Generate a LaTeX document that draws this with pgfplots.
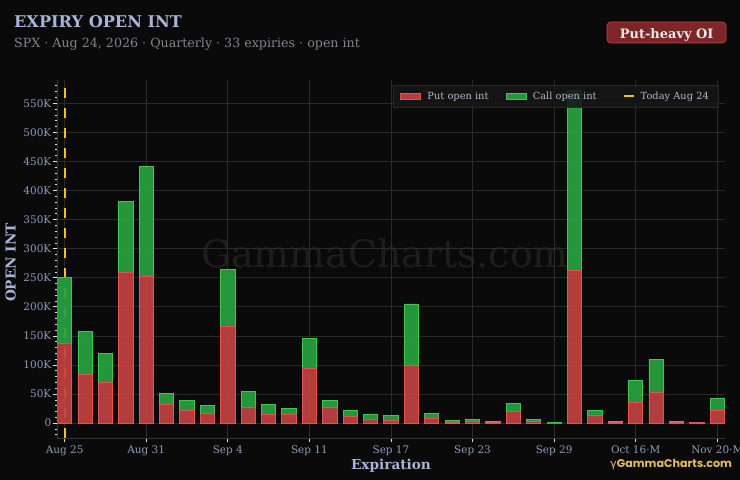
\documentclass[border=0pt]{standalone}
\usepackage{pgfplots}
\pgfplotsset{compat=1.18}
\usepackage{pgfplotstable}
\usepackage{fontspec}
\setmainfont{DejaVu Serif}
\newfontfamily\logofont{Poppins}
\newfontfamily\symfont{DejaVu Sans}
\definecolor{bg}{RGB}{10,10,10}
\definecolor{titlec}{RGB}{168,180,216}
\definecolor{subc}{RGB}{128,132,142}
\definecolor{tickc}{RGB}{143,154,188}
\definecolor{gridc}{RGB}{42,42,42}
\definecolor{axisc}{RGB}{55,55,55}
\definecolor{putfill}{RGB}{194,66,66}
\definecolor{putdraw}{RGB}{226,84,84}
\definecolor{callfill}{RGB}{40,162,64}
\definecolor{calldraw}{RGB}{62,200,82}
\definecolor{todayc}{RGB}{240,196,32}
\definecolor{badgefill}{RGB}{124,38,42}
\definecolor{badgedraw}{RGB}{206,64,64}
\definecolor{badgetext}{RGB}{242,232,232}
\definecolor{wm}{RGB}{30,30,30}
\definecolor{legfill}{RGB}{22,22,22}
\definecolor{legdraw}{RGB}{40,40,40}
\definecolor{legtext}{RGB}{176,184,208}
\definecolor{gold}{RGB}{230,190,90}

\pgfplotstableread{
idx put call
0 138000 113000
1 83000 74500
2 69500 51000
3 259000 122500
4 251500 190000
5 32000 19000
6 22000 17000
7 16000 14500
8 166000 99000
9 27000 27500
10 14500 17500
11 14500 11500
12 94000 52000
13 26500 12500
14 11000 10500
15 7000 7500
16 4500 8500
17 99000 106000
18 8500 8000
19 1500 2500
20 2500 4500
21 800 1500
22 20000 14000
23 2300 3700
24 300 700
25 263500 308500
26 13000 8500
27 1700 1700
28 35500 38500
29 52500 56500
30 800 1500
31 500 1200
32 22000 20000
}\oidata

\begin{document}
\begin{tikzpicture}[x=1bp,y=1bp]
\fill[bg] (0,0) rectangle (740,480);
\node[anchor=base west, text=titlec, font=\fontsize{16.2}{18}\selectfont\bfseries, inner sep=0] at (14,452) {EXPIRY OPEN INT};
\node[anchor=base west, text=subc, font=\fontsize{12.7}{14}\selectfont, inner sep=0] at (14,432.3) {SPX · Aug 24, 2026 · Quarterly · 33 expiries · open int};
\draw[fill=badgefill, draw=badgedraw, rounded corners=4bp, line width=0.8bp] (607,437) rectangle (726,458);
\node[anchor=base, text=badgetext, font=\fontsize{13}{15}\selectfont\bfseries, inner sep=0] at (666.7,441) {Put-heavy OI};
\node[anchor=base, text=wm, font=\fontsize{38}{40}\selectfont, inner sep=0] at (385,212) {GammaCharts.com};

\begin{axis}[
  at={(57.3bp,41.7bp)}, anchor=south west,
  scale only axis, width=667.7bp, height=358.3bp,
  ybar stacked, bar width=0.7,
  xmin=-0.36, xmax=32.38, ymin=-26000, ymax=590000,
  axis x line=bottom, axis y line=left,
  axis line style={draw=axisc, line width=0.8bp, -},
  xtick={0,4,...,32},
  xticklabels={Aug 25, Aug 31, Sep 4, Sep 11, Sep 17, Sep 23, Sep 29, Oct 16·M, Nov 20·M},
  ytick={0,50000,...,550000},
  yticklabels={0,50K,100K,150K,200K,250K,300K,350K,400K,450K,500K,550K},
  minor ytick={-20000,-10000,...,580000},
  scaled y ticks=false,
  tick align=outside,
  major tick length=4bp, minor tick length=2.5bp,
  every tick/.style={draw=white!88!black, line width=0.7bp},
  grid=major,
  major grid style={draw=gridc, line width=0.8bp},
  ticklabel style={text=tickc, font=\fontsize{10.5}{12}\selectfont},
  yticklabel style={xshift=1.5bp},
  legend style={at={(1,1)}, anchor=north east, xshift=-7bp, yshift=-5bp,
    fill=legfill, fill opacity=0.88, text opacity=1, draw=legdraw,
    text=legtext, font=\fontsize{9.9}{11}\selectfont,
    inner xsep=7bp, inner ysep=4.5bp,
    /tikz/every even column/.append style={column sep=15bp}},
  legend columns=3,
  legend cell align=left,
]
\addplot[fill=putfill, draw=putdraw, line width=0.8bp, fill opacity=0.92,
  legend image code/.code={\draw[fill=putfill, draw=putdraw, line width=0.5bp] (0bp,-3.3bp) rectangle (20bp,3.3bp); \path[draw=none, fill=none] (0bp,0bp) -- (25bp,0bp);}]
  table[x=idx, y=put] {\oidata};
\addlegendentry{Put open int}
\addplot[fill=callfill, draw=calldraw, line width=0.8bp, fill opacity=0.92,
  legend image code/.code={\draw[fill=callfill, draw=calldraw, line width=0.5bp] (0bp,-3.3bp) rectangle (20bp,3.3bp); \path[draw=none, fill=none] (0bp,0bp) -- (25bp,0bp);}]
  table[x=idx, y=call] {\oidata};
\addlegendentry{Call open int}
\addlegendimage{legend image code/.code={\path[draw=none, fill=none] (0bp,0bp) -- (25bp,0bp); \draw[draw=todayc, line width=1.6bp] (10bp,0bp) -- (20bp,0bp);}}
\addlegendentry{Today Aug 24}
\draw[todayc, line width=1.8bp, dash pattern=on 10bp off 10bp] (axis cs:0,-26000) -- (axis cs:0,590000);
\end{axis}

\node[anchor=base, text=titlec, font=\fontsize{13.7}{15}\selectfont\bfseries, inner sep=0] at (391,10.5) {Expiration};
\node[anchor=base, rotate=90, text=titlec, font=\fontsize{13.7}{15}\selectfont\bfseries, inner sep=0] at (15.5,217.5) {OPEN INT};
\node[anchor=base west, inner sep=0, text=gold] at (610,12.7) {{\symfont\fontsize{11.2}{13}\selectfont γ}{\logofont\fontsize{11.2}{13}\selectfont\bfseries GammaCharts.com}};

\pgfresetboundingbox
\useasboundingbox (0,0) rectangle (740,480);
\end{tikzpicture}
\end{document}
